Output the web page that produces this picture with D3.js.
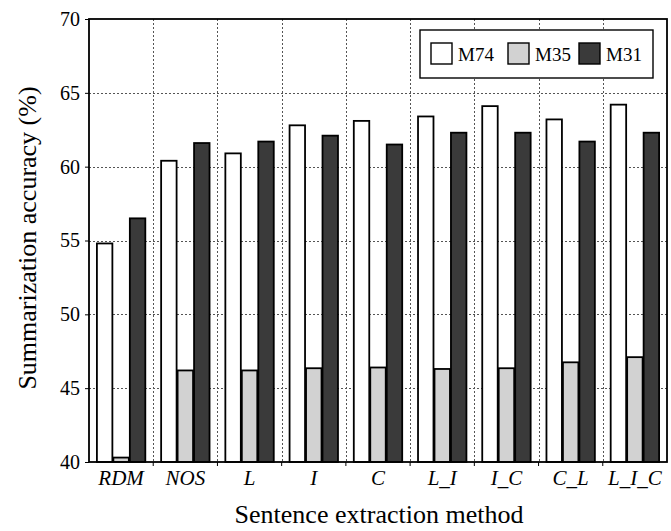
<!DOCTYPE html>
<html>
<head>
<meta charset="utf-8">
<script src="https://cdn.jsdelivr.net/npm/d3@7"></script>
<style>
  body { margin: 0; background: #fff; }
  text { font-family: "Liberation Serif", "Times New Roman", serif; }
</style>
</head>
<body>
<script>
// data
let categories = ['RDM', 'NOS', 'L', 'I', 'C', 'L_I', 'I_C', 'C_L', 'L_I_C'];
let seriesNames = ['M74', 'M35', 'M31'];
let m74 = [54.8, 60.4, 60.9, 62.8, 63.1, 63.4, 64.1, 63.2, 64.2];
let m35 = [40.3, 46.2, 46.2, 46.35, 46.4, 46.3, 46.35, 46.75, 47.1];
let m31 = [56.5, 61.6, 61.7, 62.1, 61.5, 62.3, 62.3, 61.7, 62.3];
let yTicks = [40, 45, 50, 55, 60, 65, 70];

let width = 671, height = 531;
let margin = { top: 19, right: 4, bottom: 69, left: 89 };

let fills = { M74: '#ffffff', M35: '#d2d2d2', M31: '#3a3a3a' };

let rows = categories.map((c, i) => ({ cat: c, M74: m74[i], M35: m35[i], M31: m31[i] }));

let svg = d3.select('body')
  .append('svg')
  .attr('width', width)
  .attr('height', height);

let x0 = d3.scaleBand()
  .domain(categories)
  .range([margin.left, width - margin.right])
  .padding(0);

let x1 = d3.scaleBand()
  .domain(seriesNames)
  .range([0, x0.bandwidth()])
  .paddingInner(0)
  .paddingOuter(0.45);

let y = d3.scaleLinear()
  .domain([40, 70])
  .range([height - margin.bottom, margin.top]);

// grid
let grid = svg.append('g')
  .attr('stroke', '#555')
  .attr('stroke-width', 1)
  .attr('stroke-dasharray', '2,2');

grid.selectAll('line.h')
  .data(yTicks.filter(t => t > 40 && t < 70))
  .join('line')
  .attr('x1', margin.left)
  .attr('x2', width - margin.right)
  .attr('y1', d => Math.round(y(d)) + 0.5)
  .attr('y2', d => Math.round(y(d)) + 0.5);

grid.selectAll('line.v')
  .data(categories.slice(1))
  .join('line')
  .attr('x1', d => Math.round(x0(d)) + 0.5)
  .attr('x2', d => Math.round(x0(d)) + 0.5)
  .attr('y1', margin.top)
  .attr('y2', height - margin.bottom);

// bars
let groups = svg.append('g')
  .selectAll('g')
  .data(rows)
  .join('g')
  .attr('transform', d => `translate(${x0(d.cat)},0)`);

groups.selectAll('rect')
  .data(d => seriesNames.map(s => ({ key: s, value: d[s] })))
  .join('rect')
  .attr('x', d => x1(d.key) + 0.5)
  .attr('y', d => y(d.value))
  .attr('width', x1.bandwidth() - 1)
  .attr('height', d => y(40) - y(d.value))
  .attr('fill', d => fills[d.key])
  .attr('stroke', '#000')
  .attr('stroke-width', 1.8);

// frame
svg.append('rect')
  .attr('x', margin.left)
  .attr('y', margin.top)
  .attr('width', width - margin.left - margin.right)
  .attr('height', height - margin.top - margin.bottom)
  .attr('fill', 'none')
  .attr('stroke', '#000')
  .attr('stroke-width', 1.8);

// axes
let yaxis = svg.append('g')
  .attr('transform', `translate(${margin.left},0)`)
  .call(d3.axisLeft(y).tickValues(yTicks).tickSize(4).tickPadding(5));
yaxis.select('.domain').remove();
yaxis.selectAll('text')
  .attr('font-size', 20)
  .attr('font-family', '"Liberation Serif", serif')
  .attr('fill', '#000');

let xaxis = svg.append('g')
  .attr('transform', `translate(0,${height - margin.bottom})`)
  .call(d3.axisBottom(x0).tickSize(0).tickPadding(8));
xaxis.select('.domain').remove();
xaxis.selectAll('text')
  .attr('font-size', 21)
  .attr('font-style', 'italic')
  .attr('font-family', '"Liberation Serif", serif')
  .attr('fill', '#000');

// small ticks at band borders
svg.append('g')
  .selectAll('line')
  .data(categories.slice(1))
  .join('line')
  .attr('x1', d => x0(d))
  .attr('x2', d => x0(d))
  .attr('y1', height - margin.bottom)
  .attr('y2', height - margin.bottom + 4)
  .attr('stroke', '#000');

// axis titles
svg.append('text')
  .text('Sentence extraction method')
  .attr('x', 379)
  .attr('y', 523)
  .attr('text-anchor', 'middle')
  .attr('font-size', 26);

svg.append('text')
  .text('Summarization accuracy (%)')
  .attr('transform', 'translate(36,238) rotate(-90)')
  .attr('text-anchor', 'middle')
  .attr('font-size', 26);

// legend
let legend = svg.append('g').attr('transform', 'translate(420,30)');
legend.append('rect')
  .attr('width', 233)
  .attr('height', 48)
  .attr('fill', '#fff')
  .attr('stroke', '#000')
  .attr('stroke-width', 1.4);

let legendX = [11, 88, 159];
seriesNames.forEach((s, i) => {
  legend.append('rect')
    .attr('x', legendX[i])
    .attr('y', 13)
    .attr('width', 21)
    .attr('height', 21)
    .attr('fill', fills[s])
    .attr('stroke', '#000')
    .attr('stroke-width', 1.4);
  legend.append('text')
    .text(s)
    .attr('x', legendX[i] + 27)
    .attr('y', 31)
    .attr('font-size', 19);
});
</script>
</body>
</html>
